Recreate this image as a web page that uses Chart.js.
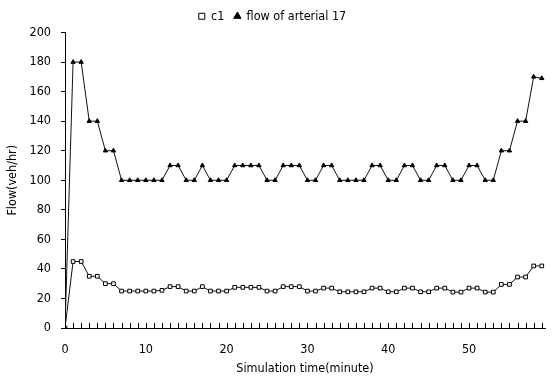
<!DOCTYPE html>
<html>
<head>
<meta charset="utf-8">
<script src="https://cdn.jsdelivr.net/npm/chart.js@4.4.0/dist/chart.umd.min.js"></script>
<style>
html,body{margin:0;padding:0;background:#fff;}
#wrap{width:553px;height:380px;position:relative;}
</style>
</head>
<body>
<div id="wrap"><canvas id="c" width="553" height="380"></canvas></div>
<script>
const minutes = [0,1,2,3,4,5,6,7,8,9,10,11,12,13,14,15,16,17,18,19,20,21,22,23,24,25,26,27,28,29,30,31,32,33,34,35,36,37,38,39,40,41,42,43,44,45,46,47,48,49,50,51,52,53,54,55,56,57,58,59];
const c1 = [0,45,45,35,35,30,30,25,25,25,25,25,25.5,28,28,25,25,28,25,25,25,27.5,27.5,27.5,27.5,25,25,28,28,28,25,25,27,27,24.5,24.5,24.5,24.5,27,27,24.5,24.5,27,27,24.5,24.5,27,27,24.3,24.3,27,27,24.3,24.3,29.5,29.5,34.5,34.5,42,42];
const flowArterial17 = [0,180,180,140,140,120,120,100,100,100,100,100,100,110,110,100,100,110,100,100,100,110,110,110,110,100,100,110,110,110,100,100,110,110,100,100,100,100,110,110,100,100,110,110,100,100,110,110,100,100,110,110,100,100,120,120,140,140,170,169];
const yTicks = [0,20,40,60,80,100,120,140,160,180,200];
const xLabels = [0,10,20,30,40,50];
const seriesNames = ['c1','flow of arterial 17'];

const FONT = '"DejaVu Sans Condensed","DejaVu Sans",sans-serif';
const FS = 12.5;

const innerTicks = {
  id:'innerTicks',
  afterDatasetsDraw(chart){
    const {ctx, scales:{x}, chartArea} = chart;
    ctx.save();
    ctx.strokeStyle = '#000';
    ctx.lineWidth = 1;
    ctx.beginPath();
    minutes.forEach(m => {
      const px = Math.round(x.getPixelForValue(m)) + 0.5;
      ctx.moveTo(px, chartArea.bottom);
      ctx.lineTo(px, chartArea.bottom - 5);
    });
    ctx.stroke();
    ctx.restore();
  }
};

new Chart(document.getElementById('c'), {
  type:'line',
  data:{
    datasets:[
      {
        label: seriesNames[0],
        data: minutes.map((m,i)=>({x:m,y:c1[i]})),
        borderColor:'#111', borderWidth:1,
        pointStyle:'rect', pointRadius:2.6, pointBackgroundColor:'#fff', pointBorderColor:'#000', pointBorderWidth:1,
        tension:0
      },
      {
        label: seriesNames[1],
        data: minutes.map((m,i)=>({x:m,y:flowArterial17[i]})),
        borderColor:'#111', borderWidth:1,
        pointStyle:'triangle', pointRadius:2.5, pointBackgroundColor:'#000', pointBorderColor:'#000', pointBorderWidth:1,
        tension:0
      }
    ]
  },
  options:{
    responsive:false,
    animation:false,
    layout:{padding:{left:0,right:8,top:0,bottom:0}},
    plugins:{
      legend:{
        display:true, position:'top', align:'center',
        labels:{ usePointStyle:true, boxWidth:6, boxHeight:6, padding:10, color:'#000', font:{family:FONT,size:FS} }
      },
      tooltip:{enabled:false}
    },
    scales:{
      x:{
        type:'linear', min:0, max:59.4,
        afterBuildTicks(s){ s.ticks = xLabels.map(v=>({value:v})); },
        afterFit(s){ s.height = 52; },
        ticks:{ color:'#000', font:{family:FONT,size:FS}, padding:14, maxRotation:0 },
        grid:{ display:true, drawOnChartArea:false, drawTicks:false, color:'#000' },
        border:{ color:'#000', width:1 },
        title:{ display:true, text:'Simulation time(minute)', color:'#000', font:{family:FONT,size:FS}, padding:{top:2,bottom:4} }
      },
      y:{
        type:'linear', min:0, max:200,
        afterBuildTicks(s){ s.ticks = yTicks.map(v=>({value:v})); },
        afterFit(s){ s.width = 65; },
        ticks:{ color:'#000', font:{family:FONT,size:FS}, padding:10 },
        grid:{ display:true, drawOnChartArea:false, drawTicks:true, tickLength:4, color:'#000' },
        border:{ color:'#000', width:1 },
        title:{ display:true, text:'Flow(veh/hr)', color:'#000', font:{family:FONT,size:FS}, padding:{top:5,bottom:4} }
      }
    }
  },
  plugins:[innerTicks]
});
</script>
</body>
</html>
